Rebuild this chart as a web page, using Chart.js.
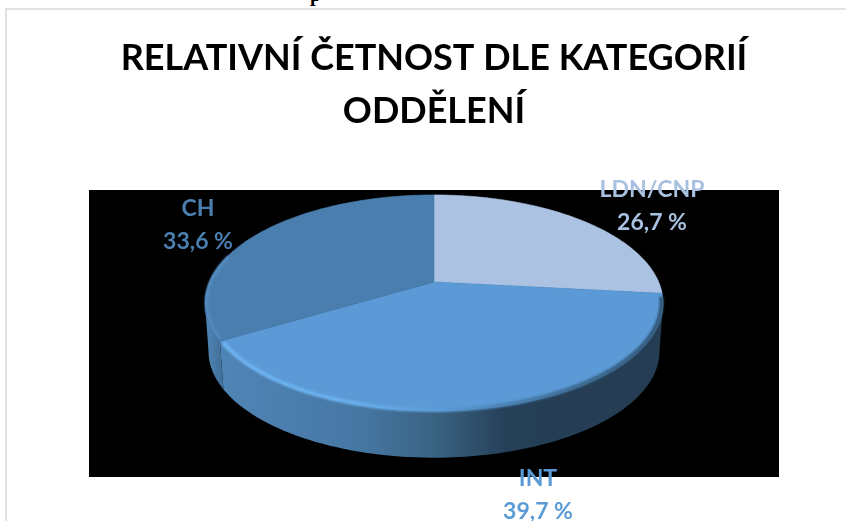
<!DOCTYPE html>
<html>
<head>
<meta charset="utf-8">
<style>
  html, body { margin: 0; padding: 0; background: #fff; overflow: hidden; }
  #frame { position: absolute; left: 5px; top: 8px; width: 841px; height: 513px; border-left: 2px solid #e2e2e2; border-top: 2px solid #e2e2e2; box-sizing: border-box; }
  #cut { position: absolute; left: 310px; top: -17px; font: bold 20px "Liberation Serif"; color: #000; }
  canvas { position: absolute; left: 0; top: 0; }
</style>
<script src="https://cdn.jsdelivr.net/npm/chart.js@4"></script>
</head>
<body>
<div id="frame"></div>
<div id="cut">p</div>
<canvas id="chart-pie" width="846" height="521"></canvas>
<script>
const categories = ["LDN/CNP", "INT", "CH"];
const values = [26.7, 39.7, 33.6];
const valueLabels = ["26,7 %", "39,7 %", "33,6 %"];
const titleLines = ["RELATIVNÍ ČETNOST DLE KATEGORIÍ", "ODDĚLENÍ"];

const sliceColors = ["#acc2e2", "#5b9ad6", "#4a7eae"];
const labelColors = ["#a9c1e0", "#5b9bd5", "#4a7fb0"];
const labelAnchors = [[652, 190], [538, 479], [198, 209]];
const wallStops = [
  [[0, "#253d52"], [1, "#253d52"]],
  [[0, "#5086b8"], [0.33, "#4778a5"], [0.52, "#38607f"], [0.66, "#253f58"], [1, "#253d52"]],
  [[0, "#5086b8"], [1, "#3f6c94"]],
];

// flat pie -> tilted disc, the far side comes out smaller
const persp = -0.195;
const depth = 49;

function project(arc, ang, scale, dy) {
  const r = arc.outerRadius;
  const u = Math.cos(ang) * scale;
  const v = Math.sin(ang) * scale;
  const w = 1 + persp * v;
  return [arc.x + (r * 1.478 * u) / w, arc.y + (r * 0.684 * v) / w + dy];
}

function rimPath(ctx, arc, a, b, scale, dy, start) {
  const steps = 80;
  for (let i = 0; i <= steps; i++) {
    const p = project(arc, a + ((b - a) * i) / steps, scale, dy);
    if (i === 0 && start) ctx.moveTo(p[0], p[1]);
    else ctx.lineTo(p[0], p[1]);
  }
}

const tiltedPie = {
  id: "tiltedPie",
  beforeDatasetsDraw(chart) {
    const ctx = chart.ctx;
    const arcs = chart.getDatasetMeta(0).data;
    const deg = Math.PI / 180;

    ctx.save();
    ctx.fillStyle = "#000";
    ctx.fillRect(89, 190, 690, 287);

    // side wall, only between the two silhouette points of the rim
    arcs.forEach((arc, i) => {
      const a = Math.max(arc.startAngle, 11 * deg);
      const b = Math.min(arc.endAngle, 169 * deg);
      if (b <= a) return;
      const g = i === 2 ? ctx.createLinearGradient(205, 0, 225, 0) : ctx.createLinearGradient(205, 0, 663, 0);
      wallStops[i].forEach((s) => g.addColorStop(s[0], s[1]));
      ctx.fillStyle = g;
      ctx.beginPath();
      rimPath(ctx, arc, a, b, 1, 0, true);
      rimPath(ctx, arc, b, a, 0.985, depth, false);
      ctx.closePath();
      ctx.fill();
    });

    // top face, stroked too so no seam shows between slices
    arcs.forEach((arc, i) => {
      ctx.fillStyle = sliceColors[i];
      ctx.strokeStyle = sliceColors[i];
      ctx.lineWidth = 0.6;
      ctx.beginPath();
      ctx.moveTo(arc.x, arc.y);
      rimPath(ctx, arc, arc.startAngle, arc.endAngle, 1, 0, false);
      ctx.closePath();
      ctx.fill();
      ctx.stroke();
    });

    // bevel along the front edge
    const arc = arcs[1];
    const bevel = ctx.createLinearGradient(222, 0, 663, 0);
    bevel.addColorStop(0, "#6db3f0");
    bevel.addColorStop(0.3, "#6ab0ec");
    bevel.addColorStop(0.5, "#5b9ad6");
    bevel.addColorStop(0.75, "#3f6f98");
    bevel.addColorStop(1, "#2f5472");
    ctx.filter = "blur(1.2px)";
    ctx.strokeStyle = bevel;
    ctx.lineWidth = 4;
    ctx.beginPath();
    rimPath(ctx, arc, arc.startAngle + 2 * deg, arc.endAngle - 1 * deg, 0.993, 0, true);
    ctx.stroke();
    const ch = arcs[2];
    ctx.strokeStyle = "#548dc1";
    ctx.lineWidth = 3;
    ctx.beginPath();
    rimPath(ctx, ch, ch.startAngle + 1 * deg, 195 * deg, 0.993, 0, true);
    ctx.stroke();
    ctx.filter = "none";

    // labels
    ctx.font = 'bold 23px "Lato"';
    ctx.textAlign = "center";
    ctx.textBaseline = "middle";
    arcs.forEach((a, i) => {
      ctx.fillStyle = labelColors[i];
      ctx.fillText(categories[i], labelAnchors[i][0], labelAnchors[i][1]);
      ctx.fillText(valueLabels[i], labelAnchors[i][0], labelAnchors[i][1] + 33);
    });
    ctx.restore();
    return false;
  },
};

new Chart(document.getElementById("chart-pie"), {
  type: "pie",
  data: {
    labels: categories,
    datasets: [{ data: values, backgroundColor: sliceColors, borderWidth: 0, radius: 152 }],
  },
  plugins: [tiltedPie],
  options: {
    responsive: false,
    animation: false,
    layout: { padding: { left: 22, top: 32, bottom: 95 } },
    plugins: {
      legend: { display: false },
      tooltip: { enabled: false },
      title: {
        display: true,
        text: titleLines,
        color: "#000",
        font: { family: "Lato", weight: "bold", size: 36, lineHeight: 1.47 },
        padding: 0,
      },
    },
  },
});
</script>
</body>
</html>
